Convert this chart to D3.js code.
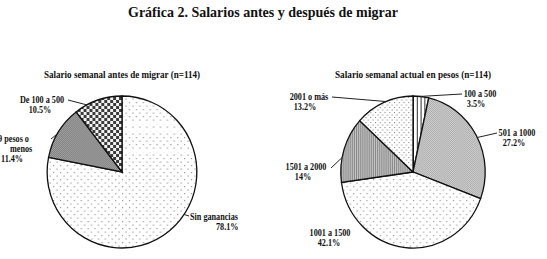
<!DOCTYPE html>
<html>
<head>
<meta charset="utf-8">
<script src="https://cdn.jsdelivr.net/npm/d3@7"></script>
<style>
  body { margin: 0; background: #fff; }
  text { font-family: "Liberation Serif", "DejaVu Serif", serif; font-weight: bold; fill: #111; }
</style>
</head>
<body>
<script>
var w = 547,
  h = 259;

// data
var titleText = 'Gráfica 2. Salarios antes y después de migrar';

var beforeTitle = 'Salario semanal antes de migrar (n=114)';
var beforeCats = ['Sin ganancias', '99 pesos o menos', 'De 100 a 500'];
var beforeVals = [78.1, 11.4, 10.5];
var beforeLabels = ['78.1%', '11.4%', '10.5%'];

var afterTitle = 'Salario semanal actual en pesos (n=114)';
var afterCats = ['100 a 500', '501 a 1000', '1001 a 1500', '1501 a 2000', '2001 o más'];
var afterVals = [3.5, 27.2, 42.1, 14, 13.2];
var afterLabels = ['3.5%', '27.2%', '42.1%', '14%', '13.2%'];

var svg = d3.select('body').append('svg')
  .attr('width', w)
  .attr('height', h)

var defs = svg.append('defs');

// fill patterns
function dots(id, size, bg, fg, r) {
  var p = defs.append('pattern').attr('id', id)
    .attr('patternUnits', 'userSpaceOnUse')
    .attr('width', size).attr('height', size);
  p.append('rect').attr('width', size).attr('height', size).attr('fill', bg);
  p.append('rect').attr('x', 0).attr('y', 0).attr('width', r).attr('height', r).attr('fill', fg);
  p.append('rect').attr('x', size / 2).attr('y', size / 2).attr('width', r).attr('height', r).attr('fill', fg);
}
dots('sparse', 7, '#fff', '#9a9a9a', 1.2);
dots('medium', 5, '#fff', '#8a8a8a', 1.1);
dots('dense', 2, '#d4d4d4', '#a8a8a8', 1);
dots('dark', 2, '#a2a2a2', '#808080', 1);

var chk = defs.append('pattern').attr('id', 'checker')
  .attr('patternUnits', 'userSpaceOnUse').attr('width', 6).attr('height', 6);
chk.append('rect').attr('width', 6).attr('height', 6).attr('fill', '#f2f2f2');
chk.append('rect').attr('width', 3).attr('height', 3).attr('fill', '#3a3a3a');
chk.append('rect').attr('x', 3).attr('y', 3).attr('width', 3).attr('height', 3).attr('fill', '#3a3a3a');

function stripes(id, size, bg, fg, lw) {
  var p = defs.append('pattern').attr('id', id)
    .attr('patternUnits', 'userSpaceOnUse').attr('width', size).attr('height', 4);
  p.append('rect').attr('width', size).attr('height', 4).attr('fill', bg);
  p.append('rect').attr('width', lw).attr('height', 4).attr('fill', fg);
}
stripes('vlines', 4, '#fff', '#222', 1);
stripes('vgray', 2, '#c8c8c8', '#868686', 1);

svg.append('text')
  .attr('x', 263)
  .attr('y', 17)
  .attr('text-anchor', 'middle')
  .attr('font-size', 14.5)
  .attr('textLength', 270)
  .attr('lengthAdjust', 'spacingAndGlyphs')
  .text(titleText);

var pie = d3.pie().sort(null).value(function (d) { return d; });
var r = 76;
var arc = d3.arc().innerRadius(0).outerRadius(r);

function drawPie(opt) {
  var g = svg.append('g')
    .attr('transform', 'translate(' + opt.cx + ',' + opt.cy + ') scale(' + opt.sx + ',1)');
  var arcs = pie(opt.values);
  g.selectAll('path')
    .data(arcs)
    .enter()
    .append('path')
    .attr('d', arc)
    .attr('fill', function (d, i) { return 'url(#' + opt.fills[i] + ')' })
    .attr('stroke', '#111')
    .attr('stroke-width', 1.3)
    .attr('vector-effect', 'non-scaling-stroke');

  svg.append('text')
    .attr('x', opt.cx)
    .attr('y', 78)
    .attr('text-anchor', 'middle')
    .attr('font-size', 10)
    .attr('textLength', 156)
    .attr('lengthAdjust', 'spacingAndGlyphs')
    .text(opt.title);

  opt.labels.forEach(function (lb, i) {
    // leader line to the arc edge
    if (lb.angle != null) {
      var a = lb.angle * Math.PI / 180;
      var ex = opt.cx + Math.sin(a) * r * opt.sx,
        ey = opt.cy - Math.cos(a) * r;
      svg.append('path')
        .attr('d', 'M' + lb.lx + ',' + lb.ly + 'L' + ex + ',' + ey)
        .attr('fill', 'none')
        .attr('stroke', '#222')
        .attr('stroke-width', 1);
    }
    lb.text.forEach(function (t, j) {
      var tx = svg.append('text')
        .attr('x', lb.x[j])
        .attr('y', lb.y[j])
        .attr('text-anchor', lb.anchor)
        .attr('font-size', 9.5)
        .text(t);
      var len = tx.node().getComputedTextLength();
      tx.attr('textLength', len * 0.86).attr('lengthAdjust', 'spacingAndGlyphs');
    });
  });
}

var bParts = beforeCats[1].split(' o ');

drawPie({
  cx: 122, cy: 172, sx: 0.985,
  values: beforeVals,
  fills: ['sparse', 'dark', 'checker'],
  title: beforeTitle,
  labels: [
    { text: [beforeCats[0], beforeLabels[0]], x: [190, 216], y: [220, 230], anchor: 'start', lx: 189, ly: 216, angle: 124 },
    { text: [bParts[0] + ' o', bParts[1], beforeLabels[1]], x: [-6, 10, 1], y: [142, 152, 162], anchor: 'start', lx: 51, ly: 139, angle: 300 },
    { text: [beforeCats[2], beforeLabels[2]], x: [42, 40], y: [103, 113], anchor: 'middle', lx: 68, ly: 100, angle: 332 }
  ]
});

drawPie({
  cx: 413, cy: 172, sx: 0.95,
  values: afterVals,
  fills: ['vlines', 'dense', 'sparse', 'vgray', 'medium'],
  title: afterTitle,
  labels: [
    { text: [afterCats[0], afterLabels[0]], x: [480, 476], y: [97, 107], anchor: 'middle', lx: 462, ly: 94, angle: 6 },
    { text: [afterCats[1], afterLabels[1]], x: [517, 514], y: [136, 146], anchor: 'middle', lx: 497, ly: 133, angle: 63 },
    { text: [afterCats[2], afterLabels[2]], x: [330, 329], y: [236, 246], anchor: 'middle', lx: null, ly: null, angle: null },
    { text: [afterCats[3], afterLabels[3]], x: [306, 303], y: [170, 180], anchor: 'middle', lx: 331, ly: 168, angle: 281 },
    { text: [afterCats[4], afterLabels[4]], x: [309, 305], y: [100, 110], anchor: 'middle', lx: 332, ly: 97, angle: 338 }
  ]
});
</script>
</body>
</html>
